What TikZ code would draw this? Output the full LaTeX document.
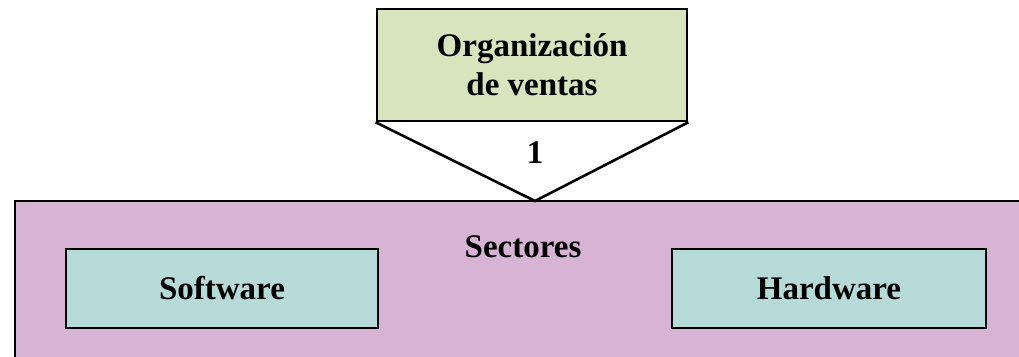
\documentclass[tikz,border=0pt]{standalone}
\usepackage{fontspec}
\setmainfont{Liberation Serif}
\definecolor{orgfill}{RGB}{215,228,189}
\definecolor{sectfill}{RGB}{216,180,212}
\definecolor{itemfill}{RGB}{182,218,216}
\tikzset{
  box/.style={draw, line width=1.3pt, inner sep=0pt, align=center},
}
\begin{document}
\begin{tikzpicture}[x=0.5pt, y=-0.5pt, font=\fontsize{16.5}{19.5}\selectfont\bfseries]
    \useasboundingbox (0,0) rectangle (1019,357);
    \clip (0,0) rectangle (1019,357);
    \node [box, fill=sectfill, minimum width=512.5pt, minimum height=89.5pt] (sect) at (527.5,290.5) {};
    \node (sectlabel) at (523,247) {Sectores};
    \node [box, fill=itemfill, minimum width=156pt, minimum height=39.5pt] (soft) at (222,288.5) {Software};
    \node [box, fill=itemfill, minimum width=157pt, minimum height=39.5pt] (hard) at (829,288.5) {Hardware};
    \node [box, fill=orgfill, minimum width=155pt, minimum height=56pt] (org) at (532,65) {Organización\\de ventas};
    \coordinate (apex) at (535,201);
    \draw [line width=1.3pt] (org.south west) -- (apex) -- (org.south east);
    \node (card) at (535,153) {1};
\end{tikzpicture}
\end{document}
